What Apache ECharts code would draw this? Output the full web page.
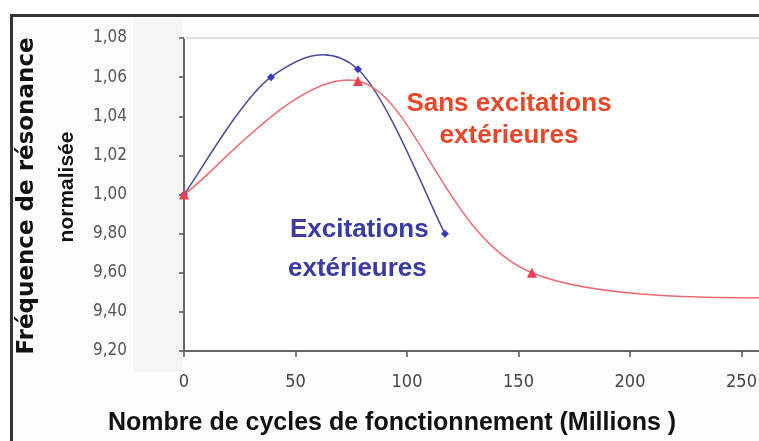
<!DOCTYPE html>
<html>
<head>
<meta charset="utf-8">
<script src="https://cdn.jsdelivr.net/npm/echarts@6/dist/echarts.min.js"></script>
<style>
  html, body { margin: 0; padding: 0; background: #ffffff; }
  #chart { width: 759px; height: 441px; }
</style>
</head>
<body>
<div id="chart"></div>
<script>
// Resonance frequency vs. operating cycles (millions)
const cyclesExt = [0, 39, 78, 117];
const freqExt = [1.000, 1.060, 1.064, 0.980];

const cyclesSans = [0, 78, 156, 312];
const freqSans = [1.000, 1.058, 0.960, 0.947];

const yTickLabels = ['9,20', '9,40', '9,60', '9,80', '1,00', '1,02', '1,04', '1,06', '1,08'];
const xTicks = [0, 50, 100, 150, 200, 250, 300];

const Y_MIN = 0.92, Y_MAX = 1.08, Y_STEP = 0.02;

function pairs(xs, ys) {
  return xs.map((x, i) => [x, ys[i]]);
}

// Spreadsheet-style smoothed curve: cubic Bezier segments with
// Catmull-Rom control points (tangent = (next - prev) / 6).
function smoothCurve(xs, ys, color, width) {
  return function (params, api) {
    if (params.dataIndex !== 0) return null;
    const p = xs.map((x, i) => api.coord([x, ys[i]]));
    const n = p.length;
    const children = [];
    for (let i = 0; i < n - 1; i++) {
      const a = p[i - 1] || p[i];
      const b = p[i];
      const c = p[i + 1];
      const d = p[i + 2] || p[i + 1];
      children.push({
        type: 'bezierCurve',
        shape: {
          x1: b[0], y1: b[1],
          cpx1: b[0] + (c[0] - a[0]) / 6, cpy1: b[1] + (c[1] - a[1]) / 6,
          cpx2: c[0] - (d[0] - b[0]) / 6, cpy2: c[1] - (d[1] - b[1]) / 6,
          x2: c[0], y2: c[1]
        },
        style: { stroke: color, lineWidth: width, fill: 'none' }
      });
    }
    return { type: 'group', children: children };
  };
}

const chart = echarts.init(document.getElementById('chart'), null, { renderer: 'canvas' });

const titleFont = '"Liberation Sans", Arial, sans-serif';
const tickFont = '"Liberation Sans Narrow", "DejaVu Sans Condensed", sans-serif';

const BLUE_LINE = '#4a4a9e', BLUE_MARK = '#3b3bbd';
const RED_LINE = '#ee6a70', RED_MARK = '#f0404e';

chart.setOption({
  animation: false,
  backgroundColor: '#ffffff',
  grid: {
    left: 184,
    top: 38,
    width: 669,
    height: 313,
    show: true,
    backgroundColor: '#ffffff',
    borderWidth: 0,
    containLabel: false,
    outerBoundsMode: 'none'
  },
  xAxis: {
    type: 'value',
    min: 0,
    max: 300,
    interval: 50,
    axisLine: { show: true, onZero: false, lineStyle: { color: '#666666', width: 2 } },
    axisTick: { show: true, length: 6, inside: false, lineStyle: { color: '#555555', width: 1.5 } },
    splitLine: { show: false },
    axisLabel: {
      margin: 22,
      color: '#444444',
      fontFamily: tickFont,
      fontSize: 18,
      formatter: v => (xTicks.indexOf(Math.round(v)) >= 0 ? String(Math.round(v)) : '')
    }
  },
  yAxis: {
    type: 'value',
    min: Y_MIN,
    max: Y_MAX,
    interval: Y_STEP,
    axisLine: { show: true, onZero: false, lineStyle: { color: '#666666', width: 2 } },
    axisTick: { show: true, length: 5, inside: false, lineStyle: { color: '#555555', width: 1.5 } },
    splitLine: { show: false },
    axisLabel: {
      margin: 57,
      align: 'right',
      color: '#555555',
      fontFamily: tickFont,
      fontSize: 17,
      formatter: v => {
        const i = Math.round((v - Y_MIN) / Y_STEP);
        return yTickLabels[i] !== undefined ? yTickLabels[i] : '';
      }
    }
  },
  series: [
    {
      name: 'Excitations extérieures',
      type: 'custom',
      coordinateSystem: 'cartesian2d',
      data: pairs(cyclesExt, freqExt),
      renderItem: smoothCurve(cyclesExt, freqExt, BLUE_LINE, 1.5),
      z: 3,
      silent: true
    },
    {
      name: 'Excitations extérieures',
      type: 'scatter',
      data: pairs(cyclesExt, freqExt),
      symbol: 'diamond',
      symbolSize: 8,
      itemStyle: { color: BLUE_MARK, opacity: 1 },
      z: 5
    },
    {
      name: 'Sans excitations extérieures',
      type: 'custom',
      coordinateSystem: 'cartesian2d',
      data: pairs(cyclesSans, freqSans),
      renderItem: smoothCurve(cyclesSans, freqSans, RED_LINE, 1.5),
      z: 4,
      silent: true
    },
    {
      name: 'Sans excitations extérieures',
      type: 'scatter',
      data: pairs(cyclesSans, freqSans),
      symbol: 'triangle',
      symbolSize: 10,
      itemStyle: { color: RED_MARK, opacity: 1 },
      z: 6
    }
  ],
  graphic: [
    // page backdrop and frame
    { type: 'rect', z: -20, silent: true, shape: { x: 10, y: 14, width: 749, height: 427 }, style: { fill: '#fdfdfd' } },
    { type: 'rect', z: -19, silent: true, shape: { x: 133, y: 18, width: 49, height: 354 }, style: { fill: '#f5f5f5' } },
    { type: 'rect', z: 50, silent: true, shape: { x: 10, y: 14, width: 749, height: 3 }, style: { fill: '#333338' } },
    { type: 'rect', z: 50, silent: true, shape: { x: 10, y: 14, width: 3, height: 427 }, style: { fill: '#333338' } },
    { type: 'line', z: 1, silent: true, shape: { x1: 184, y1: 38, x2: 759, y2: 38 }, style: { stroke: '#dedede', lineWidth: 2 } },

    // axis titles
    {
      type: 'text', z: 60, silent: true,
      x: 27, y: 196, rotation: Math.PI / 2,
      style: { text: 'Fréquence de résonance', font: 'bold 23px "DejaVu Sans", sans-serif', fill: '#111111', align: 'center', verticalAlign: 'middle' }
    },
    {
      type: 'text', z: 60, silent: true,
      x: 67, y: 187, rotation: Math.PI / 2,
      style: { text: 'normalisée', font: 'bold 21px ' + titleFont, fill: '#111111', align: 'center', verticalAlign: 'middle' }
    },
    {
      type: 'text', z: 60, silent: true,
      x: 108, y: 423,
      style: { text: 'Nombre de cycles de fonctionnement (Millions )', font: 'bold 25px ' + titleFont, fill: '#111111', align: 'left', verticalAlign: 'middle' }
    },

    // curve annotations
    {
      type: 'text', z: 60, silent: true,
      x: 509, y: 104,
      style: { text: 'Sans excitations', font: 'bold 26px ' + titleFont, fill: '#e8482a', align: 'center', verticalAlign: 'middle' }
    },
    {
      type: 'text', z: 60, silent: true,
      x: 509, y: 136,
      style: { text: 'extérieures', font: 'bold 26px ' + titleFont, fill: '#e8482a', align: 'center', verticalAlign: 'middle' }
    },
    {
      type: 'text', z: 60, silent: true,
      x: 290, y: 230,
      style: { text: 'Excitations', font: 'bold 26px ' + titleFont, fill: '#3b3ba6', align: 'left', verticalAlign: 'middle' }
    },
    {
      type: 'text', z: 60, silent: true,
      x: 288, y: 269,
      style: { text: 'extérieures', font: 'bold 26px ' + titleFont, fill: '#3b3ba6', align: 'left', verticalAlign: 'middle' }
    }
  ]
});
</script>
</body>
</html>
